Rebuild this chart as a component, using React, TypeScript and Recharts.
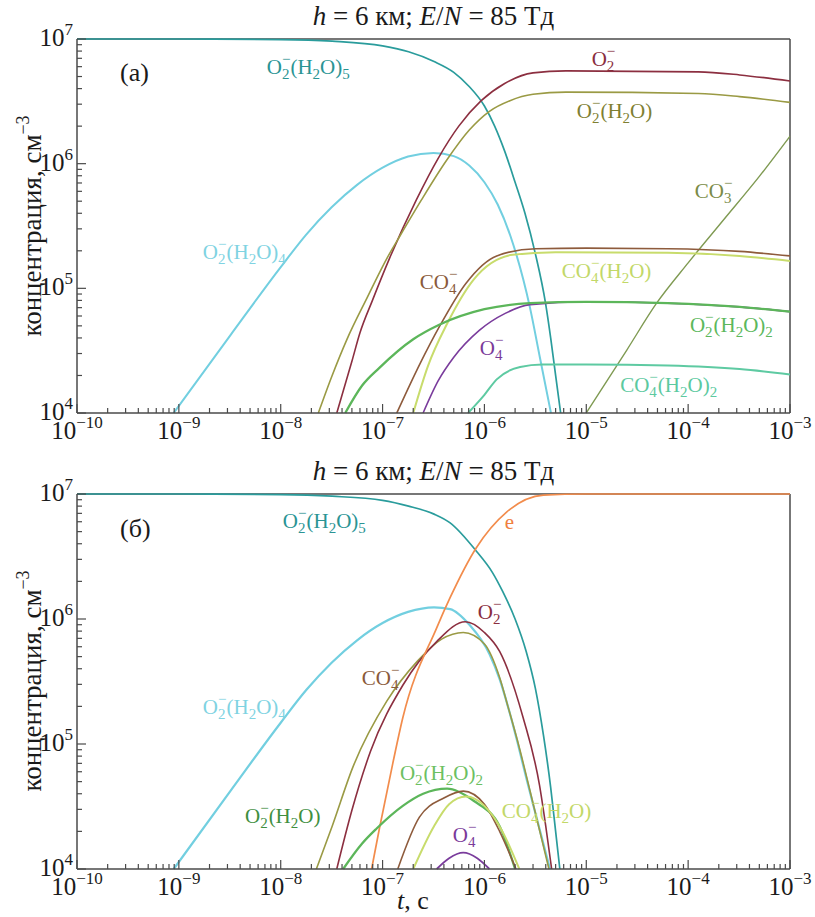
import React from 'react';
import { LineChart, Line, XAxis, YAxis, ReferenceLine, ReferenceDot } from 'recharts';

const FONT = "'Liberation Serif', 'DejaVu Serif', serif";
const AXIS = '#4a4a4a';

// axis decades
const xDecades = [1e-10, 1e-9, 1e-8, 1e-7, 1e-6, 1e-5, 1e-4, 1e-3];
const yDecades = [1e4, 1e5, 1e6, 1e7];

// ---- panel (a): [t, s ; n, cm^-3]
const aO2H2O5 = [[1e-10, 1e7], [1e-9, 1e7], [1e-8, 9.9e6], [3.2e-8, 9.6e6], [1e-7, 8.8e6], [1.8e-7, 7.9e6], [3.2e-7, 6.6e6], [5e-7, 5.4e6], [7e-7, 4.2e6], [1e-6, 2.9e6], [1.26e-6, 2.0e6], [1.58e-6, 1.26e6], [2e-6, 7.1e5], [2.5e-6, 4e5], [3.16e-6, 1.9e5], [3.98e-6, 7.6e4], [4.47e-6, 4e4], [5e-6, 2e4], [5.6e-6, 1e4]];
const aO2H2O4 = [[8.9e-10, 1e4], [3.2e-9, 4.2e4], [1e-8, 1.48e5], [1.78e-8, 2.7e5], [3.16e-8, 4.47e5], [5.62e-8, 6.76e5], [1e-7, 9.28e5], [1.78e-7, 1.14e6], [3.16e-7, 1.22e6], [5e-7, 1.15e6], [7.1e-7, 9.66e5], [1e-6, 7.1e5], [1.35e-6, 4.7e5], [1.8e-6, 2.63e5], [2.8e-6, 7e4], [3.5e-6, 2.8e4], [4.5e-6, 1e4]];
const aO2 = [[3.55e-8, 1e4], [5e-8, 2.6e4], [6e-8, 4.4e4], [7.9e-8, 7.9e4], [1.17e-7, 1.74e5], [2.14e-7, 5.1e5], [3.55e-7, 1.12e6], [5.6e-7, 2.0e6], [9.3e-7, 3.2e6], [1.58e-6, 4.4e6], [3e-6, 5.35e6], [6.3e-6, 5.55e6], [1.26e-4, 5.45e6], [3.2e-4, 5.15e6], [1e-3, 4.6e6]];
const aO2H2O = [[2.34e-8, 1e4], [3.2e-8, 2.0e4], [4.47e-8, 3.9e4], [7.1e-8, 8.5e4], [1.12e-7, 1.78e5], [1.48e-7, 2.63e5], [2.4e-7, 5.1e5], [4.27e-7, 1.07e6], [7.1e-7, 1.86e6], [1.12e-6, 2.63e6], [1.78e-6, 3.2e6], [3e-6, 3.6e6], [6.3e-6, 3.75e6], [1.26e-4, 3.65e6], [3.2e-4, 3.45e6], [1e-3, 3.1e6]];
const aCO3 = [[1e-5, 1e4], [2.5e-5, 3.2e4], [4.9e-5, 7.6e4], [1e-4, 1.6e5], [2.2e-4, 3.5e5], [5e-4, 7.9e5], [1e-3, 1.66e6]];
const aCO4 = [[1.38e-7, 1e4], [2.34e-7, 2.5e4], [3.6e-7, 4.9e4], [6.6e-7, 1.1e5], [1.32e-6, 1.82e5], [3.2e-6, 2.08e5], [1e-5, 2.1e5], [6.3e-5, 2.08e5], [3.2e-4, 1.98e5], [1e-3, 1.82e5]];
const aCO4H2O = [[2e-7, 1e4], [2.8e-7, 2.4e4], [4.3e-7, 5.2e4], [7.8e-7, 1.17e5], [1.9e-6, 1.86e5], [5e-6, 1.95e5], [6.3e-5, 1.93e5], [3.2e-4, 1.82e5], [1e-3, 1.66e5]];
const aO2H2O2 = [[4.3e-8, 1e4], [6.3e-8, 1.66e4], [9.3e-8, 2.3e4], [2e-7, 3.9e4], [3.6e-7, 5.1e4], [1e-6, 6.8e4], [2.8e-6, 7.6e4], [1e-5, 7.8e4], [6.3e-5, 7.6e4], [3.2e-4, 7.1e4], [1e-3, 6.5e4]];
const aO4 = [[2.5e-7, 1e4], [3.5e-7, 1.8e4], [5e-7, 2.8e4], [8.9e-7, 4.6e4], [1.6e-6, 6.3e4], [2.8e-6, 7.4e4], [1e-5, 7.8e4], [6.3e-5, 7.6e4], [3.2e-4, 7.1e4], [1e-3, 6.5e4]];
const aCO4H2O2 = [[6.9e-7, 1e4], [1e-6, 1.4e4], [1.32e-6, 1.86e4], [2.24e-6, 2.34e4], [3.7e-6, 2.45e4], [1e-5, 2.45e4], [6.3e-5, 2.4e4], [3.2e-4, 2.25e4], [1e-3, 2.04e4]];

// ---- panel (б)
const bO2H2O5 = [[1e-10, 1e7], [1e-9, 1e7], [1e-8, 9.9e6], [3.2e-8, 9.6e6], [1e-7, 8.9e6], [1.8e-7, 8.0e6], [3.2e-7, 6.9e6], [4.57e-7, 5.9e6], [8.3e-7, 3.5e6], [1.2e-6, 2.35e6], [1.51e-6, 1.66e6], [2e-6, 1e6], [2.57e-6, 5.5e5], [3.16e-6, 2.8e5], [3.8e-6, 1.17e5], [4.47e-6, 4.5e4], [5e-6, 2e4], [5.5e-6, 1e4]];
const bE = [[7.8e-8, 1e4], [9.3e-8, 2.1e4], [1.26e-7, 7e4], [1.58e-7, 1.62e5], [3.4e-7, 8.5e5], [4.6e-7, 1.48e6], [8.3e-7, 3.7e6], [1.66e-6, 7.2e6], [3.8e-6, 9.8e6], [1e-5, 1e7], [1e-3, 1e7]];
const bO2H2O4 = [[8.9e-10, 1e4], [3.2e-9, 4.2e4], [1e-8, 1.48e5], [1.78e-8, 2.7e5], [3.16e-8, 4.47e5], [5.62e-8, 6.76e5], [1e-7, 9.28e5], [1.78e-7, 1.14e6], [3.2e-7, 1.24e6], [4.6e-7, 1.2e6], [7.2e-7, 8.9e5], [1.12e-6, 5.25e5], [1.41e-6, 3.3e5], [1.7e-6, 2e5], [2.1e-6, 1.05e5], [2.6e-6, 5.2e4], [3.2e-6, 2.7e4], [4.4e-6, 1e4]];
const bO2 = [[3.55e-8, 1e4], [5e-8, 2.95e4], [7.6e-8, 8.7e4], [1.58e-7, 2.95e5], [3.4e-7, 6.6e5], [6.5e-7, 9.5e5], [1e-6, 7.8e5], [1.41e-6, 5.5e5], [2.4e-6, 1.62e5], [3.47e-6, 4.7e4], [4e-6, 2.2e4], [4.57e-6, 1e4]];
const bO2H2O = [[2.24e-8, 1e4], [3.2e-8, 2.2e4], [5.1e-8, 6.5e4], [1.1e-7, 2.2e5], [2.2e-7, 4.6e5], [3.8e-7, 6.9e5], [6.2e-7, 7.8e5], [1e-6, 6.3e5], [1.41e-6, 3.4e5], [1.7e-6, 2e5], [2.1e-6, 1.08e5], [3.2e-6, 2.7e4], [4.3e-6, 1e4]];
const bO2H2O2 = [[4.1e-8, 1e4], [6.3e-8, 1.6e4], [8.7e-8, 2.1e4], [1.58e-7, 3.2e4], [2.5e-7, 4e4], [4.3e-7, 4.4e4], [7.9e-7, 3.5e4], [1.41e-6, 2.2e4], [2e-6, 1e4]];
const bCO4 = [[1.41e-7, 1e4], [2.3e-7, 2.6e4], [4e-7, 3.7e4], [6.2e-7, 4.2e4], [1e-6, 3.3e4], [1.41e-6, 2e4], [2.04e-6, 1e4]];
const bCO4H2O = [[2e-7, 1e4], [3.2e-7, 2.2e4], [4.5e-7, 3.3e4], [6.6e-7, 3.8e4], [1e-6, 3.2e4], [1.5e-6, 2e4], [2.2e-6, 1e4]];
const bO4 = [[3.4e-7, 1e4], [4.5e-7, 1.22e4], [6.2e-7, 1.35e4], [8.5e-7, 1.22e4], [1.12e-6, 1e4]];

const C = {
  teal: '#2a9c9c',
  cyan: '#72cfe0',
  red: '#8c2f40',
  olive: '#9a9a44',
  co3: '#7f9a52',
  brown: '#8e5b3c',
  yellow: '#c8dc6c',
  green: '#5cb65a',
  darkGreen: '#3f8f3f',
  purple: '#7a3c9c',
  mint: '#5ecaa2',
  orange: '#f28c4c',
};

const seriesA = [
  { d: aO2H2O4, c: C.cyan, w: 2 },
  { d: aO2H2O5, c: C.teal, w: 1.7 },
  { d: aO2, c: C.red, w: 1.6 },
  { d: aO2H2O, c: C.olive, w: 1.6 },
  { d: aCO3, c: C.co3, w: 1.4 },
  { d: aCO4, c: C.brown, w: 1.6 },
  { d: aCO4H2O, c: C.yellow, w: 2 },
  { d: aO4, c: C.purple, w: 1.6 },
  { d: aO2H2O2, c: C.green, w: 2.3 },
  { d: aCO4H2O2, c: C.mint, w: 2 },
];

const seriesB = [
  { d: bO2H2O4, c: C.cyan, w: 2.2 },
  { d: bO2H2O5, c: C.teal, w: 1.7 },
  { d: bO2H2O, c: C.olive, w: 1.6 },
  { d: bO2, c: C.red, w: 1.6 },
  { d: bE, c: C.orange, w: 1.7 },
  { d: bO2H2O2, c: C.green, w: 2.3 },
  { d: bCO4, c: C.brown, w: 1.6 },
  { d: bCO4H2O, c: C.yellow, w: 2 },
  { d: bO4, c: C.purple, w: 1.8 },
];

// curve labels, anchored at (t, n) = start of text, baseline
const labelsA = [
  { f: 'O_2^-(H_2O)_5', c: '#2a9494', t: 7.3e-9, n: 5.25e6 },
  { f: 'O_2^-(H_2O)_4', c: '#7fd3e2', t: 1.72e-9, n: 1.73e5 },
  { f: 'O_2^-', c: '#8a2e3e', t: 1.13e-5, n: 6.1e6 },
  { f: 'O_2^-(H_2O)', c: '#7f7f32', t: 8.07e-6, n: 2.33e6 },
  { f: 'CO_3^-', c: '#7b8b48', t: 1.16e-4, n: 5.3e5 },
  { f: 'CO_4^-', c: '#8a5a3a', t: 2.32e-7, n: 9.9e4 },
  { f: 'CO_4^-(H_2O)', c: '#c2d868', t: 5.75e-6, n: 1.21e5 },
  { f: 'O_2^-(H_2O)_2', c: '#5cb85c', t: 1.04e-4, n: 4.48e4 },
  { f: 'O_4^-', c: '#7a3a9a', t: 9.0e-7, n: 2.92e4 },
  { f: 'CO_4^-(H_2O)_2', c: '#5cc9a0', t: 2.15e-5, n: 1.48e4 },
];

const labelsB = [
  { f: 'O_2^-(H_2O)_5', c: '#2a9494', t: 1.05e-8, n: 5.35e6 },
  { f: 'e', c: '#f08040', t: 1.58e-6, n: 5.25e6 },
  { f: 'O_2^-', c: '#8a2e3e', t: 8.6e-7, n: 1.0e6 },
  { f: 'CO_4^-', c: '#8a5a3a', t: 6.26e-8, n: 2.97e5 },
  { f: 'O_2^-(H_2O)_4', c: '#7fd3e2', t: 1.72e-9, n: 1.74e5 },
  { f: 'O_2^-(H_2O)_2', c: '#6cc062', t: 1.48e-7, n: 5.15e4 },
  { f: 'O_2^-(H_2O)', c: C.darkGreen, t: 4.46e-9, n: 2.33e4 },
  { f: 'CO_4^-(H_2O)', c: '#c2d868', t: 1.48e-6, n: 2.56e4 },
  { f: 'O_4^-', c: '#7a3a9a', t: 4.9e-7, n: 1.64e4 },
];

const withMinor = (decades: number[]) => {
  const out: number[] = [];
  decades.forEach((d, i) => {
    out.push(d);
    if (i < decades.length - 1) {
      for (let k = 2; k <= 9; k++) out.push(+(k * d).toPrecision(3));
    }
  });
  return out;
};
const xTicks = withMinor(xDecades);
const yTicks = withMinor(yDecades);

const pts = (a: number[][]) => a.map(([t, n]) => ({ t, n }));
const isMajor = (v: number) => {
  const e = Math.log10(v);
  return Math.abs(e - Math.round(e)) < 1e-6;
};
const expText = (v: number) => {
  const e = Math.round(Math.log10(v));
  return e < 0 ? '\u2212' + Math.abs(e) : String(e);
};

function XTick(props: any) {
  const { x, y, payload } = props;
  const major = isMajor(payload.value);
  return (
    <g>
      <line x1={x} x2={x} y1={y} y2={y - (major ? 9 : 5)} stroke={AXIS} strokeWidth={1.2} />
      {major && (
        <text x={x} y={y + 26} textAnchor="middle" fontFamily={FONT} fontSize={25} fill="#1a1a1a">
          10<tspan dy={-11} fontSize={17}>{expText(payload.value)}</tspan>
        </text>
      )}
    </g>
  );
}

function YTick(props: any) {
  const { x, y, payload } = props;
  const major = isMajor(payload.value);
  return (
    <g>
      <line x1={x} x2={x + (major ? 9 : 5)} y1={y} y2={y} stroke={AXIS} strokeWidth={1.2} />
      {major && (
        <text x={x - 4} y={y + 7} textAnchor="end" fontFamily={FONT} fontSize={25} fill="#1a1a1a">
          10<tspan dy={-11} fontSize={17}>{expText(payload.value)}</tspan>
        </text>
      )}
    </g>
  );
}

// O_2^-(H_2O)_5 -> tspans; "^-" is stacked over the preceding subscript
function Formula({ x, y, f, color }: { x: number; y: number; f: string; color: string }) {
  const size = 21;
  const sub = 15;
  const parts: React.ReactNode[] = [];
  let cur = 0;
  let buf = '';
  let key = 0;
  const flush = () => {
    if (!buf) return;
    parts.push(<tspan key={key++} dy={-cur} fontSize={size}>{buf}</tspan>);
    cur = 0;
    buf = '';
  };
  let i = 0;
  while (i < f.length) {
    const ch = f[i];
    if (ch === '_') {
      flush();
      parts.push(<tspan key={key++} dy={5 - cur} fontSize={sub}>{f[i + 1]}</tspan>);
      cur = 5;
      i += 2;
    } else if (ch === '^') {
      flush();
      parts.push(<tspan key={key++} dx={-sub * 0.5} dy={-10 - cur} fontSize={sub}>{'\u2212'}</tspan>);
      cur = -10;
      i += 2;
    } else {
      buf += ch;
      i++;
    }
  }
  flush();
  return (
    <text x={x} y={y} fill={color} fontFamily={FONT} fontSize={size}>
      {parts}
    </text>
  );
}

function Panel({ series, labels, height, bottom }: any) {
  return (
    <LineChart width={815} height={height} margin={{ top: 39, right: 25, left: 0, bottom: 0 }}>
      <XAxis
        dataKey="t"
        type="number"
        scale="log"
        domain={[1e-10, 1e-3]}
        ticks={xTicks}
        interval={0}
        height={bottom}
        tickSize={0}
        tickMargin={0}
        tickLine={false}
        axisLine={{ stroke: AXIS, strokeWidth: 1.5 }}
        tick={(p: any) => <XTick {...p} />}
      />
      <YAxis
        type="number"
        scale="log"
        domain={[1e4, 1e7]}
        ticks={yTicks}
        interval={0}
        width={77}
        tickSize={0}
        tickMargin={0}
        tickLine={false}
        axisLine={{ stroke: AXIS, strokeWidth: 1.5 }}
        tick={(p: any) => <YTick {...p} />}
      />
      <ReferenceLine y={1e7} stroke={AXIS} strokeWidth={1.5} />
      <ReferenceLine x={1e-3} stroke={AXIS} strokeWidth={1.5} />
      {series.map((s: any, i: number) => (
        <Line
          key={i}
          data={pts(s.d)}
          dataKey="n"
          type="monotone"
          stroke={s.c}
          strokeWidth={s.w}
          dot={false}
          activeDot={false}
          isAnimationActive={false}
        />
      ))}
      {labels.map((l: any, i: number) => (
        <ReferenceDot
          key={'l' + i}
          x={l.t}
          y={l.n}
          r={0}
          shape={(p: any) => <Formula x={p.cx} y={p.cy} f={l.f} color={l.c} />}
        />
      ))}
    </LineChart>
  );
}

function YLabel({ cy }: { cy: number }) {
  return (
    <text transform={`translate(41,${cy}) rotate(-90)`} textAnchor="middle" fontFamily={FONT} fontSize={27} fill="#1a1a1a">
      концентрация, см<tspan dy={-12} fontSize={18}>{'\u22123'}</tspan>
    </text>
  );
}

function Title({ y }: { y: number }) {
  return (
    <text x={433.5} y={y} textAnchor="middle" fontFamily={FONT} fontSize={27} fill="#1a1a1a">
      <tspan fontStyle="italic">h</tspan>
      {' = 6 км; '}
      <tspan fontStyle="italic">E</tspan>/<tspan fontStyle="italic">N</tspan>
      {' = 85 Тд'}
    </text>
  );
}

export default function App() {
  return (
    <div style={{ position: 'absolute', left: 0, top: 0, width: 815, height: 917, background: '#fff', overflow: 'hidden' }}>
      <div style={{ position: 'absolute', left: 0, top: 0 }}>
        <Panel series={seriesA} labels={labelsA} height={455} bottom={42} />
      </div>
      <div style={{ position: 'absolute', left: 0, top: 455 }}>
        <Panel series={seriesB} labels={labelsB} height={462} bottom={48} />
      </div>
      <svg width={815} height={917} style={{ position: 'absolute', left: 0, top: 0, pointerEvents: 'none' }}>
        <Title y={25} />
        <Title y={480} />
        <YLabel cy={226} />
        <YLabel cy={681} />
        <text x={120} y={81} fontFamily={FONT} fontSize={26} fill="#1a1a1a">(а)</text>
        <text x={120} y={537} fontFamily={FONT} fontSize={26} fill="#1a1a1a">(б)</text>
        <text x={413} y={909} textAnchor="middle" fontFamily={FONT} fontSize={26} fill="#1a1a1a">
          <tspan fontStyle="italic">t</tspan>, с
        </text>
      </svg>
    </div>
  );
}
